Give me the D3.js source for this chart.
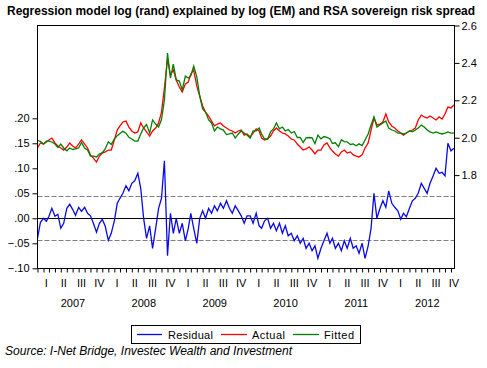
<!DOCTYPE html>
<html><head><meta charset="utf-8">
<script src="https://cdn.jsdelivr.net/npm/d3@7"></script>
<style>
body{margin:0;background:#fff;}
svg{display:block;font-family:Arial,"Liberation Sans",sans-serif;}
</style>
</head><body>
<svg id="c" width="487" height="368"></svg>
<script>
// Semi-monthly observations, Jan 2007 - Nov 2012
const actual = [
1.945,1.972,1.966,1.977,1.988,1.998,1.972,1.956,1.945,1.934,1.950,1.972,1.956,1.945,1.966,1.988,1.966,1.945,1.908,1.891,1.870,1.902,1.918,1.924,
1.934,1.934,1.988,2.041,2.063,2.084,2.089,2.057,2.036,2.025,2.031,2.079,2.052,2.031,2.009,2.036,2.052,2.079,2.137,2.266,2.420,2.335,2.362,2.309,
2.271,2.244,2.287,2.298,2.341,2.362,2.276,2.223,2.170,2.137,2.116,2.089,2.063,2.073,2.079,2.063,2.052,2.041,2.036,2.025,2.036,2.041,2.014,2.020,
2.004,2.025,2.047,2.036,1.998,1.988,1.993,2.009,2.036,2.052,2.036,2.025,2.020,2.009,1.993,1.988,1.966,1.950,1.934,1.940,1.950,1.934,1.913,1.934,
1.934,1.961,1.972,1.945,1.929,1.913,1.902,1.924,1.934,1.918,1.924,1.908,1.902,1.897,1.908,1.945,1.972,2.041,2.105,2.068,2.073,2.084,2.127,2.084,
2.063,2.052,2.036,2.025,2.014,2.025,2.036,2.041,2.052,2.095,2.121,2.111,2.105,2.116,2.105,2.095,2.111,2.100,2.127,2.164,2.159,2.175];
const fitted = [
1.985,1.980,1.966,1.982,1.982,1.977,1.966,1.948,1.966,1.945,1.930,1.945,1.937,1.940,1.945,1.974,1.945,1.934,1.902,1.902,1.897,1.913,1.920,1.940,
1.978,1.964,1.993,2.011,2.022,2.034,2.024,2.002,1.993,1.982,1.982,2.020,2.052,2.071,2.025,2.095,2.073,2.057,2.097,2.202,2.453,2.319,2.394,2.309,
2.303,2.255,2.330,2.319,2.330,2.383,2.325,2.223,2.154,2.137,2.095,2.079,2.036,2.057,2.047,2.041,2.017,2.020,2.025,1.998,2.020,2.036,2.025,2.014,
1.998,2.036,2.036,2.052,2.020,1.993,1.993,2.031,2.047,2.079,2.047,2.057,2.036,2.044,2.025,2.033,2.001,2.001,1.974,1.999,2.001,1.999,1.968,2.014,
1.994,2.006,2.002,1.995,1.969,1.973,1.952,1.989,1.979,1.978,1.964,1.967,1.957,1.967,1.958,1.988,2.020,2.068,2.111,2.057,2.068,2.079,2.089,2.052,
2.041,2.036,2.025,2.025,2.020,2.025,2.036,2.031,2.041,2.052,2.068,2.057,2.041,2.031,2.025,2.031,2.025,2.020,2.025,2.031,2.025,2.025];
const residual = [
-0.040,-0.008,0.000,-0.006,0.004,0.020,0.004,0.008,-0.020,-0.010,0.020,0.028,0.018,0.006,0.022,0.014,0.022,0.010,0.005,-0.010,-0.028,-0.010,-0.002,-0.016,
-0.044,-0.030,-0.005,0.030,0.040,0.050,0.065,0.055,0.070,0.075,0.090,0.060,0.000,-0.040,-0.015,-0.060,-0.020,0.020,0.040,0.115,-0.075,0.010,-0.030,0.000,
-0.030,-0.010,-0.045,-0.020,0.010,-0.020,-0.050,0.000,0.015,0.000,0.020,0.010,0.025,0.015,0.030,0.020,0.035,0.020,0.010,0.025,0.015,0.005,-0.010,0.005,
0.005,-0.010,0.010,-0.015,-0.020,-0.005,0.000,-0.020,-0.010,-0.025,-0.010,-0.030,-0.015,-0.035,-0.030,-0.045,-0.035,-0.050,-0.040,-0.060,-0.050,-0.065,-0.055,-0.080,
-0.060,-0.045,-0.030,-0.050,-0.040,-0.060,-0.050,-0.065,-0.045,-0.060,-0.040,-0.060,-0.055,-0.070,-0.050,-0.080,-0.055,-0.020,0.050,0.000,0.020,0.035,0.022,0.055,
0.030,0.022,0.015,-0.002,0.010,0.003,0.020,0.035,0.040,0.050,0.070,0.060,0.050,0.070,0.085,0.100,0.090,0.092,0.085,0.150,0.135,0.140];
const years = ["2007","2008","2009","2010","2011","2012"];
const quarterLabels = ["I","II","III","IV"];
const leftTicks = [-0.10,-0.05,0.00,0.05,0.10,0.15,0.20];
const rightTicks = [1.8,2.0,2.2,2.4,2.6];
const bandLines = [-0.044, 0.044];
const seriesNames = ["Residual","Actual","Fitted"];
const seriesColors = ["#0a0ae6","#ff0000","#008000"];
const titleText = "Regression model log (rand) explained by log (EM) and RSA sovereign risk spread";
const sourceText = "Source: I-Net Bridge, Investec Wealth and Investment";

const dates = actual.map((d,i)=>new Date(2007, Math.floor(i/2), i%2 ? 16 : 1));

const L=37.5, R=454.5, T=25.5, B=268.5;
const svg = d3.select("#c");
const x = d3.scaleTime().domain([new Date(2007,0,1), new Date(2012,10,19)]).range([L,R]);
const yL = d3.scaleLinear().domain([-0.10, 0.3856]).range([268.3, 25.5]);
const yR = d3.scaleLinear().domain([1.3016, 2.6]).range([268.3, 25.5]);

svg.append("defs").append("clipPath").attr("id","clip")
  .append("rect").attr("x",L).attr("y",T).attr("width",R-L).attr("height",B-T);

// title
svg.append("text").attr("x",7).attr("y",15).attr("font-size",12).attr("font-weight","bold")
  .attr("textLength",468).attr("lengthAdjust","spacingAndGlyphs").text(titleText);

const g = svg.append("g").attr("clip-path","url(#clip)");
// band lines
g.selectAll(".band").data(bandLines).enter().append("line")
  .attr("x1",L).attr("x2",R).attr("y1",d=>Math.round(yL(d))+0.5).attr("y2",d=>Math.round(yL(d))+0.5)
  .attr("stroke","#808080").attr("stroke-dasharray","5,2");
// zero line
g.append("line").attr("x1",L).attr("x2",R).attr("y1",Math.round(yL(0))+0.5).attr("y2",Math.round(yL(0))+0.5)
  .attr("stroke","#000");

const lineL = d3.line().x((d,i)=>x(dates[i])).y(d=>yL(d));
const lineR = d3.line().x((d,i)=>x(dates[i])).y(d=>yR(d));
g.append("path").datum(residual).attr("d",lineL).attr("fill","none").attr("stroke",seriesColors[0]).attr("stroke-width",1.3);
g.append("path").datum(actual).attr("d",lineR).attr("fill","none").attr("stroke",seriesColors[1]).attr("stroke-width",1.3);
g.append("path").datum(fitted).attr("d",lineR).attr("fill","none").attr("stroke",seriesColors[2]).attr("stroke-width",1.3);

// frame
svg.append("rect").attr("x",L).attr("y",T).attr("width",R-L).attr("height",B-T)
  .attr("fill","none").attr("stroke","#000");

const fmtL = d => d3.format(".2f")(d).replace("0.",".");
const axL = svg.append("g").attr("transform",`translate(${L},0)`)
  .call(d3.axisLeft(yL).tickValues(leftTicks).tickFormat(fmtL).tickSize(5).tickPadding(3).tickSizeOuter(0));
const axR = svg.append("g").attr("transform",`translate(${R},0)`)
  .call(d3.axisRight(yR).tickValues(rightTicks).tickFormat(d3.format(".1f")).tickSize(5).tickPadding(2).tickSizeOuter(0));
[axL,axR].forEach(a=>{
  a.select(".domain").remove();
  a.selectAll("text").attr("font-size",11).attr("font-family","Arial,'Liberation Sans',sans-serif").attr("fill","#000");
  a.selectAll("line").attr("stroke","#000");
});
// month ticks
const months = d3.timeMonth.range(new Date(2007,0,1), new Date(2012,10,19));
const axB = svg.append("g").attr("transform",`translate(0,${B})`)
  .call(d3.axisBottom(x).tickValues(months).tickFormat("").tickSize(4).tickSizeOuter(0));
axB.select(".domain").remove();
axB.selectAll("line").attr("stroke","#000");

// quarter and year labels
years.forEach((yr,yi)=>{
  const y0 = 2007+yi;
  quarterLabels.forEach((q,qi)=>{
    const cx = (x(new Date(y0,qi*3,1)) + x(new Date(y0,qi*3+3,1)))/2;
    svg.append("text").attr("x",cx).attr("y",287).attr("text-anchor","middle")
      .attr("font-size",11).text(q);
  });
  const cy = (x(new Date(y0,0,1)) + x(new Date(y0+1,0,1)))/2;
  svg.append("text").attr("x",cy).attr("y",307).attr("text-anchor","middle")
    .attr("font-size",11).text(yr);
});

// legend
const lg = svg.append("g");
lg.append("rect").attr("x",131.5).attr("y",325.5).attr("width",229).attr("height",18)
  .attr("fill","#fff").attr("stroke","#000");
const legItems = [{x1:137,x2:162,tx:168,tw:45},{x1:221,x2:247,tx:252,tw:33},{x1:293,x2:319,tx:324,tw:30}];
legItems.forEach((it,i)=>{
  lg.append("line").attr("x1",it.x1).attr("x2",it.x2).attr("y1",334.5).attr("y2",334.5)
    .attr("stroke",seriesColors[i]).attr("stroke-width",1.3);
  lg.append("text").attr("x",it.tx).attr("y",338.5).attr("font-size",11)
    .attr("textLength",it.tw).attr("lengthAdjust","spacing").text(seriesNames[i]);
});

// source
svg.append("text").attr("x",5).attr("y",355).attr("font-size",12).attr("font-style","italic")
  .attr("textLength",287).attr("lengthAdjust","spacingAndGlyphs").text(sourceText);
</script>
</body></html>
